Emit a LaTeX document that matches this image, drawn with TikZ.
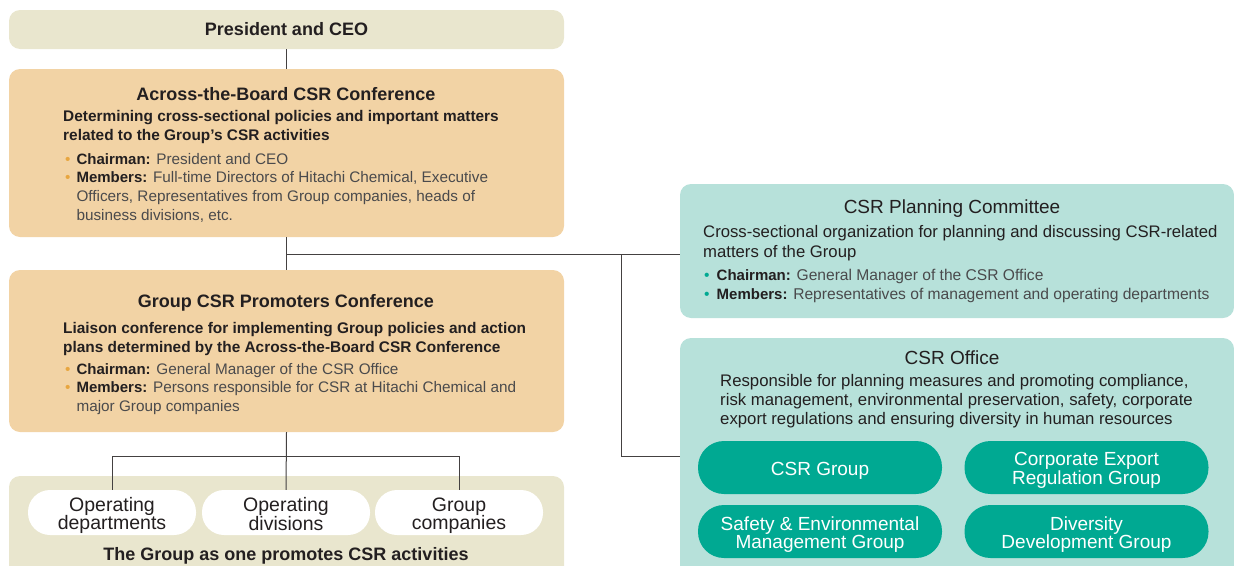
\documentclass[tikz,border=0pt]{standalone}
\usepackage{fontspec}
\setmainfont{Liberation Sans}
\definecolor{beige}{HTML}{E9E6CE}
\definecolor{peach}{HTML}{F2D3A5}
\definecolor{mint}{HTML}{B7E1DA}
\definecolor{tealdk}{HTML}{00A992}
\definecolor{ink}{HTML}{231F20}
\definecolor{grayt}{HTML}{4A4A4C}
\definecolor{dotor}{HTML}{E8A640}
\newcommand{\obul}{\textcolor{dotor}{\textbullet}\hspace{6pt}}
\newcommand{\tbul}{\textcolor{tealdk}{\textbullet}\hspace{7pt}}
\newcommand{\lbl}[1]{\textcolor{ink}{\fontsize{15}{19}\selectfont\bfseries #1}}
\newcommand{\pst}{\rule[-3pt]{0pt}{14pt}}
\begin{document}
\begin{tikzpicture}[x=1pt,y=-1pt,
  panel/.style={rounded corners=11pt, inner sep=0pt, minimum width=555pt},
  wpill/.style={fill=white, rounded corners=22pt, minimum width=168pt, minimum height=45pt, inner sep=0pt},
  tpill/.style={fill=tealdk, rounded corners=26pt, minimum width=244pt, minimum height=53pt, inner sep=0pt},
  wtxt/.style={inner sep=0pt, align=center, text=ink, font=\fontsize{19.5}{18.5}\selectfont, yshift=-3pt},
  ttxt/.style={inner sep=0pt, align=center, text=white, font=\fontsize{19}{18.5}\selectfont, yshift=-3pt},
  ttl/.style={inner sep=0pt, text=ink},
  desc/.style={inner sep=0pt, anchor=north west, align=left, text=ink},
  buls/.style={inner sep=0pt, anchor=north west, align=left, text=grayt},
  conn/.style={draw=ink!85, line width=1pt}]
\useasboundingbox (0,0) rectangle (1234,565);
\clip (0,0) rectangle (1234,565);
% left column panels
\node[panel, fill=beige, minimum height=39pt, text=ink, font=\fontsize{18}{20}\selectfont\bfseries] (pres) at (286.5,29.5) {President and CEO};
\node[panel, fill=peach, minimum height=168pt] (atb) at (286.5,153) {};
\node[panel, fill=peach, minimum height=162pt] (prom) at (286.5,351) {};
\node[panel, fill=beige, minimum height=130pt] (grp) at (286.5,541) {};
% right column panels
\node[panel, fill=mint, minimum width=554pt, minimum height=134pt] (plan) at (957,251) {};
\node[panel, fill=mint, minimum width=554pt, minimum height=280pt] (office) at (957,478) {};
% texts: Across-the-Board
\node[ttl, font=\fontsize{18}{20}\selectfont\bfseries] (atbt) at (286,94) {Across-the-Board CSR Conference};
\node[desc, font=\fontsize{15.4}{19}\selectfont\bfseries] (atbd) at (63,107.7) {\strut Determining cross-sectional policies and important matters\\related to the Group’s CSR activities};
\node[buls, font=\fontsize{15.3}{18.7}\selectfont] (atbb) at (65,150.9) {\strut\obul\lbl{Chairman:} President and CEO\\
\obul\lbl{Members:} Full-time Directors of Hitachi Chemical, Executive\\
\hphantom{\obul}Officers, Representatives from Group companies, heads of\\
\hphantom{\obul}business divisions, etc.};
% texts: Promoters
\node[ttl, font=\fontsize{18}{20}\selectfont\bfseries] (promt) at (286,302.5) {Group CSR Promoters Conference};
\node[desc, font=\fontsize{15.4}{19}\selectfont\bfseries] (promd) at (63,319.7) {\strut Liaison conference for implementing Group policies and action\\plans determined by the Across-the-Board CSR Conference};
\node[buls, font=\fontsize{15.3}{18.7}\selectfont] (promb) at (65,360.9) {\strut\obul\lbl{Chairman:} General Manager of the CSR Office\\
\obul\lbl{Members:} Persons responsible for CSR at Hitachi Chemical and\\
\hphantom{\obul}major Group companies};
% group pills
\node[wpill] (od) at (112,512.5) {};
\node[wpill] (ov) at (286,512.5) {};
\node[wpill] (gc) at (459,512.5) {};
\node[wtxt] (odt) at (od.center) {\pst Operating\\\pst departments};
\node[wtxt] (ovt) at (ov.center) {\pst Operating\\\pst divisions};
\node[wtxt] (gct) at (gc.center) {\pst Group\\\pst companies};
\node[ttl, font=\fontsize{18}{20}\selectfont\bfseries] (grpt) at (286,555.5) {The Group as one promotes CSR activities};
% planning committee
\node[ttl, font=\fontsize{19}{20}\selectfont] (plant) at (952,209) {CSR Planning Committee};
\node[desc, font=\fontsize{16.7}{20}\selectfont] (pland) at (703,223) {\strut Cross-sectional organization for planning and discussing CSR-related\\matters of the Group};
\node[buls, font=\fontsize{15.6}{19}\selectfont] (planb) at (704,266.7) {\strut\tbul\lbl{Chairman:} General Manager of the CSR Office\\
\tbul\lbl{Members:} Representatives of management and operating departments};
% CSR office
\node[ttl, font=\fontsize{19}{20}\selectfont] (offt) at (952,358) {CSR Office};
\node[desc, font=\fontsize{16.75}{19}\selectfont] (offd) at (720,372.7) {\strut Responsible for planning measures and promoting compliance,\\risk management, environmental preservation, safety, corporate\\export regulations and ensuring diversity in human resources};
\node[tpill] (g1) at (820,467.5) {};
\node[tpill] (g2) at (1086.5,467.5) {};
\node[tpill] (g3) at (820,531.5) {};
\node[tpill] (g4) at (1086.5,531.5) {};
\node[ttxt] (g1t) at (g1.center) {\pst CSR Group};
\node[ttxt] (g2t) at (g2.center) {\pst Corporate Export\\\pst Regulation Group};
\node[ttxt] (g3t) at (g3.center) {\pst Safety \& Environmental\\\pst Management Group};
\node[ttxt] (g4t) at (g4.center) {\pst Diversity\\\pst Development Group};
% connectors
\coordinate (j1) at (286,254);
\coordinate (j2) at (621,254);
\coordinate (j3) at (621,456);
\coordinate (j4) at (286,456);
\draw[conn] (pres.south) -- (atb.north);
\draw[conn] (atb.south) -- (prom.north);
\draw[conn] (j1) -- (j1 -| plan.west);
\draw[conn] (j2) -- (j3) -- (j3 -| office.west);
\draw[conn] (prom.south) -- (ov.north);
\draw[conn] (j4 -| od.north) -- (j4 -| gc.north);
\draw[conn] (j4 -| od.north) -- (od.north);
\draw[conn] (j4 -| gc.north) -- (gc.north);
\end{tikzpicture}
\end{document}
